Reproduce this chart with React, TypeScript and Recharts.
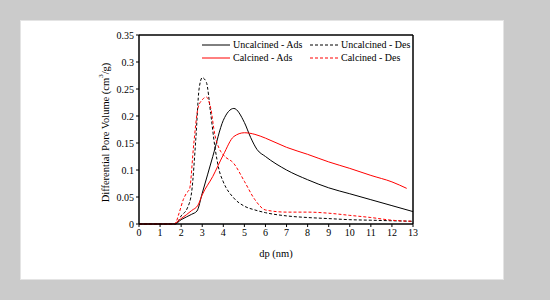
import { LineChart, Line, XAxis, YAxis, ReferenceLine } from "recharts";

type Pt = { dp: number; v: number };

const xTicks = [0, 1, 2, 3, 4, 5, 6, 7, 8, 9, 10, 11, 12, 13];
const yTicks = [0, 0.05, 0.1, 0.15, 0.2, 0.25, 0.3, 0.35];

const uncalcAdsDp = [0, 1.7, 2, 2.5, 2.75, 3, 3.5, 4, 4.5, 5, 5.3, 5.6, 6, 7, 8, 9, 10, 11, 12, 13];
const uncalcAdsV = [0, 0, 0.008, 0.018, 0.024, 0.057, 0.125, 0.192, 0.214, 0.188, 0.16, 0.138, 0.125, 0.1, 0.082, 0.067, 0.056, 0.045, 0.034, 0.023];

const uncalcDesDp = [0, 1.75, 2, 2.3, 2.5, 2.7, 2.85, 3, 3.2, 3.4, 3.6, 3.8, 4, 4.5, 5, 5.5, 6, 7, 8, 9, 10, 11, 12, 13];
const uncalcDesV = [0, 0, 0.015, 0.03, 0.06, 0.16, 0.25, 0.271, 0.262, 0.205, 0.143, 0.1, 0.078, 0.048, 0.033, 0.026, 0.021, 0.015, 0.012, 0.01, 0.008, 0.007, 0.006, 0.005];

const calcAdsDp = [0, 1.6, 2, 2.5, 2.8, 3, 3.5, 4, 4.5, 5, 5.5, 6, 7, 8, 9, 10, 11, 12, 12.7];
const calcAdsV = [0, 0, 0.01, 0.025, 0.035, 0.054, 0.088, 0.128, 0.162, 0.169, 0.166, 0.159, 0.142, 0.129, 0.115, 0.103, 0.09, 0.078, 0.066];

const calcDesDp = [0, 1.7, 1.9, 2.1, 2.25, 2.4, 2.6, 2.8, 3, 3.2, 3.4, 3.6, 3.8, 4, 4.5, 5, 5.5, 6, 7, 8, 9, 10, 11, 12, 13];
const calcDesV = [0, 0, 0.02, 0.045, 0.057, 0.065, 0.149, 0.215, 0.23, 0.235, 0.215, 0.165, 0.14, 0.128, 0.112, 0.079, 0.045, 0.026, 0.022, 0.022, 0.02, 0.016, 0.012, 0.007, 0.005];

const zip = (xs: number[], ys: number[]): Pt[] => xs.map((dp, i) => ({ dp, v: ys[i] }));

const series = [
  { name: "Uncalcined - Ads", data: zip(uncalcAdsDp, uncalcAdsV), color: "#000000", dash: undefined },
  { name: "Uncalcined - Des", data: zip(uncalcDesDp, uncalcDesV), color: "#000000", dash: "3 2" },
  { name: "Calcined - Ads", data: zip(calcAdsDp, calcAdsV), color: "#ff0000", dash: undefined },
  { name: "Calcined - Des", data: zip(calcDesDp, calcDesV), color: "#ff0000", dash: "3 2" },
];

const font = "'Liberation Serif', 'Times New Roman', serif";

const fmtY = (v: number) => String(Math.round(v * 100) / 100);

const LegendBox = () => (
  <div
    style={{
      position: "absolute",
      left: 202,
      top: 39,
      display: "grid",
      gridTemplateColumns: "108px 120px",
      rowGap: 2,
      fontFamily: font,
      fontSize: 10,
      color: "#000",
      lineHeight: "11px",
    }}
  >
    {series.map((s) => (
      <div key={s.name} style={{ display: "flex", alignItems: "center", height: 11 }}>
        <svg width={28} height={6} style={{ marginRight: 3 }}>
          <line x1={0} y1={3} x2={28} y2={3} stroke={s.color} strokeWidth={1} strokeDasharray={s.dash} />
        </svg>
        <span>{s.name}</span>
      </div>
    ))}
  </div>
);

const YLabel = (props: any) => {
  const vb = props.viewBox || {};
  const cx = 105;
  const cy = (vb.y ?? 35) + (vb.height ?? 190) / 2 + 3;
  return (
    <text
      x={cx}
      y={cy}
      transform={`rotate(-90 ${cx} ${cy})`}
      textAnchor="middle"
      dominantBaseline="central"
      fontFamily={font}
      fontSize={10.5}
      fill="#000"
    >
      Differential Pore Volume (cm
      <tspan dy={-4} fontSize={7}>3</tspan>
      <tspan dy={4}>/g)</tspan>
    </text>
  );
};

export default function App() {
  return (
    <div
      style={{
        position: "absolute",
        left: 0,
        top: 0,
        width: 550,
        height: 300,
        background: "#cbcbcb",
        fontFamily: font,
      }}
    >
      <div
        style={{
          position: "absolute",
          left: 20,
          top: 20,
          width: 482,
          height: 258,
          background: "#ffffff",
          border: "1px solid #e4e4e4",
        }}
      />
      <div style={{ position: "absolute", left: 0, top: 0 }}>
        <LineChart
          width={550}
          height={300}
          margin={{ top: 35, right: 137, bottom: 46, left: 99 }}
        >
          <XAxis
            dataKey="dp"
            type="number"
            domain={[0, 13]}
            ticks={xTicks}
            interval={0}
            allowDuplicatedCategory={false}
            height={30}
            axisLine={{ stroke: "#000", strokeWidth: 1.5 }}
            tickLine={{ stroke: "#000" }}
            tickSize={3}
            tick={{ fill: "#000", fontSize: 10, fontFamily: font }}
            label={{
              value: "dp (nm)",
              position: "insideBottom",
              offset: -3,
              fill: "#000",
              fontSize: 10.5,
              fontFamily: font,
            }}
          />
          <YAxis
            dataKey="v"
            type="number"
            domain={[0, 0.35]}
            ticks={yTicks}
            interval={0}
            width={40}
            tickFormatter={fmtY}
            axisLine={{ stroke: "#000", strokeWidth: 1.5 }}
            tickLine={{ stroke: "#000" }}
            tickSize={3}
            tick={{ fill: "#000", fontSize: 10, fontFamily: font }}
            label={<YLabel />}
          />
          <ReferenceLine x={13} stroke="#000" strokeWidth={1.5} ifOverflow="visible" />
          <ReferenceLine y={0.35} stroke="#000" strokeWidth={1.5} ifOverflow="visible" />
          {series.map((s) => (
            <Line
              key={s.name}
              name={s.name}
              data={s.data}
              dataKey="v"
              type="monotone"
              stroke={s.color}
              strokeWidth={1}
              strokeDasharray={s.dash}
              dot={false}
              activeDot={false}
              isAnimationActive={false}
            />
          ))}
        </LineChart>
      </div>
      <LegendBox />
    </div>
  );
}
